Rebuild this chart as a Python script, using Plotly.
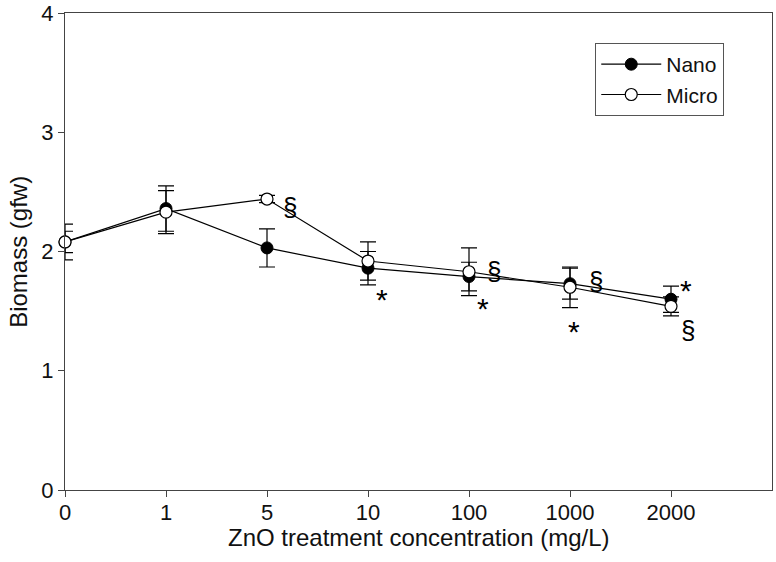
import plotly.graph_objects as go

categories = ["0", "1", "5", "10", "100", "1000", "2000"]
nano = [2.08, 2.36, 2.03, 1.86, 1.79, 1.73, 1.60]
nano_err = [0.15, 0.19, 0.16, 0.14, 0.12, 0.13, 0.11]
micro = [2.08, 2.33, 2.44, 1.92, 1.83, 1.70, 1.54]
micro_err = [0.09, 0.18, 0.03, 0.16, 0.20, 0.17, 0.08]

# significance marks: (category index, offset, y, symbol)
marks = [
    (2, 0.23, 2.37, "§"),
    (3, 0.14, 1.60, "*"),
    (4, 0.25, 1.84, "§"),
    (4, 0.14, 1.52, "*"),
    (5, 0.26, 1.75, "§"),
    (5, 0.04, 1.33, "*"),
    (6, 0.15, 1.67, "*"),
    (6, 0.17, 1.34, "§"),
]

xs = list(range(len(categories)))
font = "Liberation Sans, Arial, sans-serif"

fig = go.Figure()
fig.add_trace(go.Scatter(
    x=xs, y=nano, name="Nano", mode="lines+markers",
    line=dict(color="black", width=1.2),
    marker=dict(symbol="circle", size=12, color="black", line=dict(color="black", width=1)),
    error_y=dict(type="data", array=nano_err, color="black", thickness=1.2, width=8),
    cliponaxis=False,
))
fig.add_trace(go.Scatter(
    x=xs, y=micro, name="Micro", mode="lines+markers",
    line=dict(color="black", width=1.2),
    marker=dict(symbol="circle", size=12, color="white", line=dict(color="black", width=1.2)),
    error_y=dict(type="data", array=micro_err, color="black", thickness=1.2, width=8),
    cliponaxis=False,
))

for idx, dx, y, sym in marks:
    fig.add_annotation(x=idx + dx, y=y, text=sym, showarrow=False,
                       font=dict(family=font, size=26 if sym == "§" else 30, color="black"))

# axis titles
fig.add_annotation(xref="paper", yref="paper", x=0.5, y=-0.10, text="ZnO treatment concentration (mg/L)",
                   showarrow=False, xanchor="center", yanchor="middle",
                   font=dict(family=font, size=24, color="#111"))
fig.add_annotation(xref="paper", yref="paper", x=-0.066, y=0.5, text="Biomass (gfw)", textangle=-90,
                   showarrow=False, xanchor="center", yanchor="middle",
                   font=dict(family=font, size=24, color="#111"))

fig.update_layout(
    width=776, height=562,
    margin=dict(l=65, r=4, t=13, b=72),
    plot_bgcolor="white", paper_bgcolor="white",
    font=dict(family=font, size=22, color="#111"),
    showlegend=True,
    legend=dict(x=0.75, y=0.937, xanchor="left", yanchor="top",
                bordercolor="#555", borderwidth=1, bgcolor="white",
                font=dict(size=21, color="#111"), tracegroupgap=0,
                itemwidth=60),
    xaxis=dict(range=[0, 7], tickmode="array", tickvals=xs, ticktext=categories,
               automargin=False, ticklabelstandoff=-4,
               showgrid=False, zeroline=False, showline=True, linecolor="#444", linewidth=1.2,
               mirror=True, ticks="outside", ticklen=6, tickcolor="#444"),
    yaxis=dict(range=[0, 4], tickvals=[0, 1, 2, 3, 4],
               automargin=False,
               showgrid=False, zeroline=False, showline=True, linecolor="#444", linewidth=1.2,
               mirror=True, ticks="outside", ticklen=6, tickcolor="#444"),
)

fig.write_html("out.html", post_script="document.body.style.margin='0';",
               config={"displayModeBar": False})
